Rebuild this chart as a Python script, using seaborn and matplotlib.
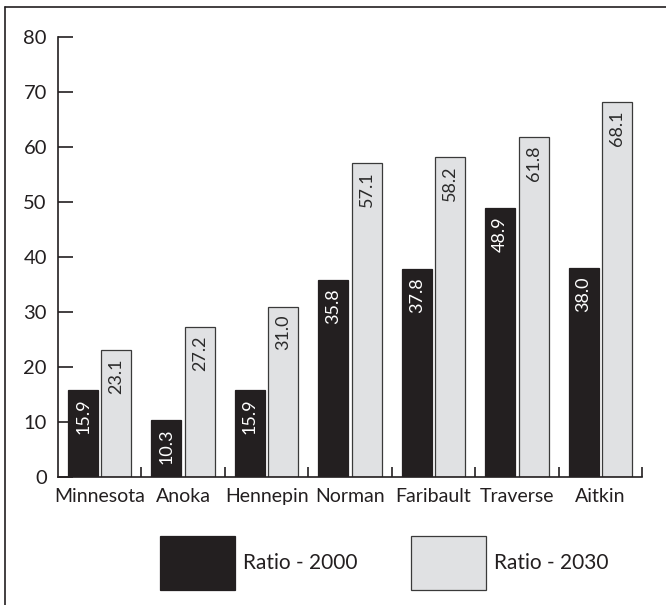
import matplotlib
matplotlib.use("Agg")
import matplotlib.pyplot as plt
from matplotlib.lines import Line2D
from matplotlib.ticker import FixedLocator
import pandas as pd
import seaborn as sns

counties = ["Minnesota", "Anoka", "Hennepin", "Norman", "Faribault", "Traverse", "Aitkin"]
ratio_2000 = [15.9, 10.3, 15.9, 35.8, 37.8, 48.9, 38.0]
ratio_2030 = [23.1, 27.2, 31.0, 57.1, 58.2, 61.8, 68.1]
series_names = ["Ratio - 2000", "Ratio - 2030"]
y_ticks = [0, 10, 20, 30, 40, 50, 60, 70, 80]

df = pd.DataFrame({
    "county": counties * 2,
    "ratio": ratio_2000 + ratio_2030,
    "series": [series_names[0]] * len(counties) + [series_names[1]] * len(counties),
})

sns.set_style("white")
plt.rcParams["font.family"] = ["Lato", "DejaVu Sans"]

DARK = "#231f20"
LIGHT = "#e0e1e3"

fig = plt.figure(figsize=(6.66, 6.05), dpi=100)
ax = fig.add_axes([58 / 666, 1 - 477 / 605, (642 - 58) / 666, (477 - 37) / 605])

sns.barplot(data=df, x="county", y="ratio", hue="series", order=counties,
            hue_order=series_names, palette=[DARK, LIGHT], width=0.8, gap=0.1,
            ax=ax, legend=True, saturation=1, errorbar=None)

# edges: light bars get a thin dark outline
for container, edge in zip(ax.containers, [DARK, "#3a3a3a"]):
    for p in container.patches:
        p.set_edgecolor(edge)
        p.set_linewidth(0.9)

# value labels inside the bar tops, rotated
text_colors = ["white", "#2a2a2a"]
for container, tcol in zip(ax.containers, text_colors):
    for p in container.patches:
        h = p.get_height()
        ax.annotate(f"{h:.1f}", xy=(p.get_x() + p.get_width() / 2, h),
                    xytext=(0, -6), textcoords="offset points",
                    rotation=90, ha="center", va="top",
                    fontsize=13, color=tcol)

ax.set_xlim(-0.5, len(counties) - 0.5)
ax.set_ylim(0, 80)
ax.set_yticks(y_ticks)
ax.set_xlabel("")
ax.set_ylabel("")

for side in ["top", "right"]:
    ax.spines[side].set_visible(False)
for side in ["left", "bottom"]:
    ax.spines[side].set_color("#231f20")
    ax.spines[side].set_linewidth(1.2)

ax.tick_params(axis="y", left=True, direction="in", length=11, width=1.2,
               color="#231f20", labelsize=14.5, pad=8, labelcolor="#231f20")
ax.tick_params(axis="x", which="major", bottom=True, length=0, labelsize=14,
               pad=8, labelcolor="#231f20")
ax.xaxis.set_minor_locator(FixedLocator([i + 0.5 for i in range(len(counties))]))
ax.tick_params(axis="x", which="minor", bottom=True, direction="in", length=7,
               width=1.2, color="#231f20")

# legend below the plot with large swatches
handles, labels = ax.get_legend_handles_labels()
ax.get_legend().remove()
for h in handles:
    h.set_linewidth(0.9)
handles[0].set_edgecolor(DARK)
handles[1].set_edgecolor("#3a3a3a")
fig.legend(handles, labels, loc="center", bbox_to_anchor=(0.577, 0.069),
           ncol=2, frameon=False, fontsize=15, handlelength=3.6,
           handleheight=3.62, handletextpad=0.38, columnspacing=2.6,
           labelcolor="#231f20")

# frame lines along the left and top edges
fig.add_artist(Line2D([4.5 / 666, 4.5 / 666], [0, 1 - 7 / 605],
                      transform=fig.transFigure, color="#231f20", lw=1.2))
fig.add_artist(Line2D([4.5 / 666, 1], [1 - 7 / 605, 1 - 7 / 605],
                      transform=fig.transFigure, color="#231f20", lw=1.2))

fig.savefig("out.png", dpi=100)
